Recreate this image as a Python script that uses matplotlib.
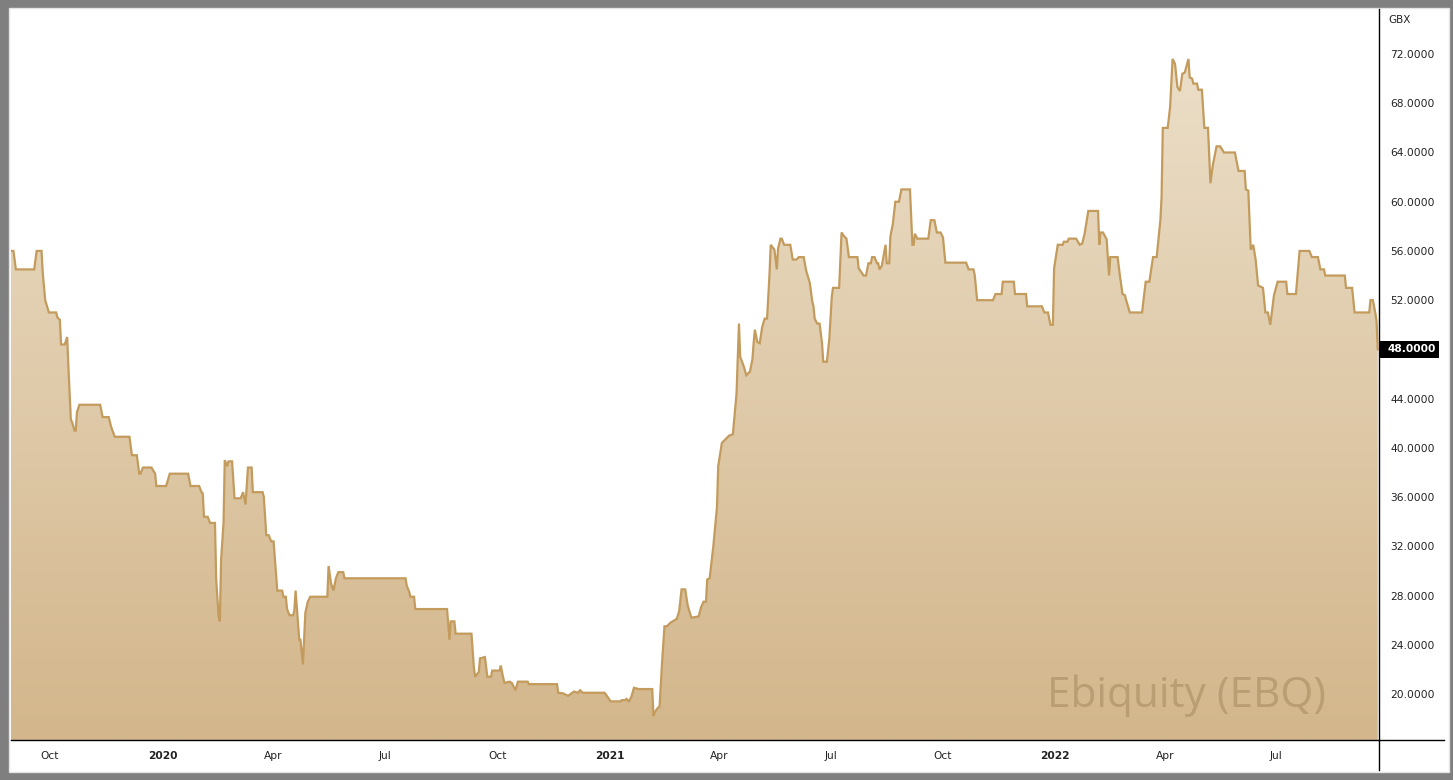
import numpy as np
import pandas as pd
import matplotlib
matplotlib.use('Agg')
import matplotlib.pyplot as plt
import matplotlib.dates as mdates
import matplotlib.transforms as mtransforms
from matplotlib.colors import LinearSegmentedColormap
from matplotlib.lines import Line2D
from matplotlib.patches import Rectangle, Polygon

# Ebiquity (EBQ) share price, GBX (days since start date)
start = pd.Timestamp('2019-08-30')
days = [
    0, 2, 4, 19, 21, 25, 26, 28, 31, 37, 38, 40, 41, 44, 46, 47, 49, 50, 52, 53,
    54, 56, 73, 75, 80, 82, 85, 97, 99, 103, 105, 106, 108, 115, 118, 119, 127, 130, 145, 147,
    154, 156, 157, 158, 161, 163, 167, 168, 170, 171, 172, 174, 175, 177, 178, 181, 183, 188, 190, 192,
    194, 197, 198, 206, 207, 209, 211, 213, 215, 218, 222, 223, 225, 226, 228, 231, 232, 233, 236, 237,
    239, 241, 243, 245, 259, 260, 262, 264, 266, 268, 272, 273, 323, 324, 326, 327, 330, 331, 357, 359,
    360, 363, 364, 377, 379, 380, 383, 384, 388, 390, 393, 394, 400, 401, 403, 404, 408, 410, 413, 415,
    423, 424, 447, 448, 452, 456, 461, 464, 466, 468, 486, 491, 499, 500, 503, 504, 506, 508, 510, 514,
    525, 526, 527, 529, 531, 533, 535, 537, 540, 545, 547, 549, 552, 554, 557, 563, 565, 567, 569, 570,
    572, 575, 578, 579, 582, 584, 588, 591, 594, 596, 597, 600, 602, 605, 607, 608, 609, 611, 613, 615,
    617, 619, 621, 622, 625, 627, 628, 630, 631, 633, 638, 640, 643, 645, 649, 651, 654, 656, 657, 658,
    660, 662, 664, 665, 668, 670, 672, 673, 678, 680, 682, 684, 686, 693, 694, 698, 700, 702, 704, 705,
    707, 709, 710, 711, 713, 716, 717, 719, 720, 722, 724, 727, 729, 736, 738, 739, 740, 742, 751, 753,
    756, 758, 761, 763, 765, 782, 784, 788, 789, 791, 804, 806, 811, 812, 821, 822, 831, 832, 844, 846,
    849, 851, 853, 854, 857, 861, 862, 865, 866, 872, 875, 877, 879, 882, 890, 891, 892, 894, 897, 899,
    900, 906, 908, 910, 912, 913, 916, 926, 929, 932, 935, 938, 941, 942, 943, 947, 949, 951, 953, 955,
    957, 959, 961, 964, 965, 967, 968, 971, 972, 975, 977, 980, 982, 984, 987, 990, 993, 1002, 1005, 1010,
    1011, 1013, 1015, 1017, 1019, 1021, 1025, 1027, 1029, 1031, 1034, 1037, 1044, 1045, 1052, 1055, 1063, 1065, 1070, 1072,
    1075, 1076, 1092, 1093, 1098, 1100, 1112, 1113, 1115, 1117, 1118, 1119,
]
price = [
    56.0, 56.0, 54.5, 54.5, 56.0, 56.0, 54.2, 52.0, 51.0, 51.0, 50.6, 50.4, 48.4, 48.4, 49.0, 46.6, 42.3, 42.1, 41.4, 41.4,
    42.9, 43.5, 43.5, 42.5, 42.5, 41.7, 40.9, 40.9, 39.4, 39.4, 37.9, 37.9, 38.4, 38.4, 37.9, 36.9, 36.9, 37.9, 37.9, 36.9,
    36.9, 36.4, 36.3, 34.4, 34.4, 33.9, 33.9, 29.3, 26.3, 25.9, 30.9, 33.9, 39.0, 38.5, 38.9, 38.9, 35.9, 35.9, 36.4, 35.4,
    38.4, 38.4, 36.4, 36.4, 36.0, 32.9, 32.9, 32.4, 32.4, 28.4, 28.4, 27.9, 27.9, 26.9, 26.4, 26.4, 26.8, 28.4, 24.4, 24.4,
    22.4, 26.6, 27.5, 27.9, 27.9, 30.4, 29.0, 28.4, 29.4, 29.9, 29.9, 29.4, 29.4, 28.8, 28.3, 27.9, 27.9, 26.9, 26.9, 24.4,
    25.9, 25.9, 24.9, 24.9, 22.1, 21.4, 21.8, 22.9, 23.0, 21.4, 21.4, 21.9, 21.9, 22.3, 21.3, 20.9, 21.0, 20.9, 20.3, 21.0,
    21.0, 20.8, 20.8, 20.1, 20.05, 19.85, 20.2, 20.1, 20.3, 20.1, 20.1, 19.4, 19.4, 19.5, 19.5, 19.6, 19.4, 19.8, 20.5, 20.4,
    20.4, 18.2, 18.5, 18.8, 19.0, 22.5, 25.5, 25.5, 25.8, 26.1, 26.7, 28.5, 28.5, 27.2, 26.2, 26.3, 27.05, 27.5, 27.5, 29.3,
    29.4, 32.0, 35.2, 38.5, 40.4, 40.6, 41.0, 41.1, 44.4, 50.1, 47.4, 46.6, 45.9, 46.2, 47.2, 48.5, 49.6, 48.6, 48.5, 49.8,
    50.5, 50.5, 54.1, 56.5, 56.1, 54.5, 56.2, 57.0, 57.0, 56.5, 56.5, 55.3, 55.3, 55.5, 55.5, 54.4, 53.4, 51.9, 51.5, 50.5,
    50.1, 50.1, 48.5, 47.0, 47.0, 48.9, 52.3, 53.0, 53.0, 57.5, 57.2, 57.0, 55.5, 55.5, 54.6, 54.0, 54.0, 55.0, 55.0, 55.5,
    55.5, 55.0, 55.0, 54.5, 54.8, 56.5, 55.0, 55.0, 57.2, 58.2, 60.0, 60.0, 61.0, 61.0, 56.5, 56.5, 57.4, 57.0, 57.0, 58.5,
    58.5, 57.5, 57.5, 57.1, 55.05, 55.05, 54.5, 54.5, 54.05, 52.0, 52.0, 52.5, 52.5, 53.5, 53.5, 52.5, 52.5, 51.5, 51.5, 51.0,
    51.0, 50.0, 50.0, 54.6, 56.5, 56.5, 56.75, 56.75, 57.0, 57.0, 56.5, 56.6, 57.4, 59.25, 59.25, 56.5, 57.5, 57.5, 56.95, 54.0,
    55.5, 55.5, 53.9, 52.5, 52.4, 52.0, 51.0, 51.0, 53.5, 53.5, 55.5, 55.5, 58.5, 60.4, 66.0, 66.0, 67.7, 71.6, 71.2, 69.3,
    69.0, 70.4, 70.5, 71.6, 70.1, 70.0, 69.6, 69.6, 69.1, 69.1, 66.0, 66.0, 61.5, 63.0, 64.5, 64.5, 64.0, 64.0, 62.5, 62.5,
    61.0, 60.9, 56.1, 56.5, 55.3, 53.2, 53.0, 51.0, 51.0, 50.0, 52.4, 53.5, 53.5, 52.5, 52.5, 56.0, 56.0, 55.5, 55.5, 54.5,
    54.5, 54.0, 54.0, 53.0, 53.0, 51.0, 51.0, 52.0, 52.0, 50.95, 50.3, 48.0,
]
dates = start + pd.to_timedelta(days, unit='D')

tick_dates = ['2019-10-01', '2020-01-01', '2020-04-01', '2020-07-01', '2020-10-01', '2021-01-01',
              '2021-04-01', '2021-07-01', '2021-10-01', '2022-01-01', '2022-04-01', '2022-07-01']
tick_labels = ['Oct', '2020', 'Apr', 'Jul', 'Oct', '2021', 'Apr', 'Jul', 'Oct', '2022', 'Apr', 'Jul']
y_ticks = np.arange(20, 73, 4)
last_price = price[-1]

W, H = 1453, 780
ymin, ymax = 16.26, 75.66
x_end = start + pd.Timedelta(days=1120)

fig = plt.figure(figsize=(W / 100, H / 100), dpi=100, facecolor='#7f7f7f')
fig.patches.append(Rectangle((9 / W, 8 / H), 1440 / W, 764 / H, transform=fig.transFigure,
                             facecolor='white', edgecolor='#e4e4e4', lw=1, zorder=-5))

ax = fig.add_axes([11 / W, 40 / H, 1368 / W, 731 / H])
ax.set_facecolor('none')
ax.set_zorder(2)

xs = mdates.date2num(dates)
x0, x1 = mdates.date2num(start), mdates.date2num(x_end)

# gradient area under the line
cmap = LinearSegmentedColormap.from_list('tan', ['#d3b68b', '#ede1cc'])
grad = np.linspace(0, 1, 256).reshape(-1, 1)
im = ax.imshow(grad, extent=[x0, x1, ymin, ymax], aspect='auto', cmap=cmap,
               origin='lower', zorder=1)
verts = np.column_stack([np.r_[xs[0], xs, xs[-1]], np.r_[ymin, price, ymin]])
area = Polygon(verts, closed=True, transform=ax.transData, facecolor='none', edgecolor='none')
ax.add_patch(area)
im.set_clip_path(area)

ax.plot(dates, price, color='#c39b5d', lw=1.6, zorder=3, solid_joinstyle='miter')

ax.set_xlim(start, x_end)
ax.set_ylim(ymin, ymax)

# axes styling
for s in ['top', 'left']:
    ax.spines[s].set_visible(False)
ax.spines['right'].set_color('black')
ax.spines['bottom'].set_color('black')
ax.spines['right'].set_linewidth(1)
ax.spines['bottom'].set_linewidth(1)

ax.yaxis.tick_right()
ax.set_yticks(y_ticks)
ax.set_yticklabels([f'{v:.4f}' for v in y_ticks])
ax.tick_params(axis='y', length=0, pad=8, labelsize=7.7, labelcolor='#222222')

ax.set_xticks(pd.to_datetime(tick_dates))
ax.set_xticklabels(tick_labels)
ax.tick_params(axis='x', length=0, pad=8, labelsize=7.7, labelcolor='#222222')
for lab in ax.get_xticklabels():
    if lab.get_text().isdigit():
        lab.set_fontweight('bold')

# extended axis lines below / right of the plot
fig.add_artist(Line2D([1379 / W, 1379 / W], [1 - 740 / H, 1 - 770 / H], color='black', lw=1))
fig.add_artist(Line2D([1379 / W, 1444 / W], [1 - 740 / H, 1 - 740 / H], color='black', lw=1))

fig.text(1388 / W, 1 - 20 / H, 'GBX', fontsize=7.5, va='center', ha='left', color='#222222')

# last price marker
trans = mtransforms.blended_transform_factory(ax.transAxes, ax.transData)
ax.add_patch(Rectangle((1.0, last_price - 0.68), 60 / 1368, 1.36, transform=trans,
                       facecolor='black', edgecolor='none', clip_on=False, zorder=5))
ax.text(1.0 + 9 / 1368, last_price, f'{last_price:.4f}', transform=trans, color='white',
        fontsize=7.7, fontweight='bold', va='center', ha='left', zorder=6, clip_on=False)

# watermark
ax.text(0.961, 0.045, 'Ebiquity (EBQ)', transform=ax.transAxes, ha='right', va='baseline',
        fontsize=30.5, family='Open Sans', color='#b99d73', zorder=2)

fig.savefig('out.png', dpi=100, facecolor=fig.get_facecolor())
plt.close(fig)
